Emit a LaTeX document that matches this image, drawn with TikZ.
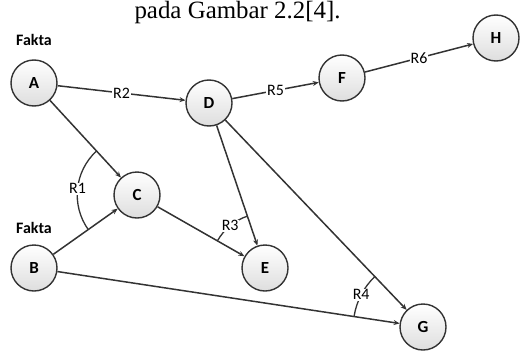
\documentclass[tikz,border=0pt]{standalone}
\usepackage{fontspec}
\setmainfont{Carlito}
\newfontfamily\titlefont{Liberation Serif}
\newcommand\rulefont{\fontsize{16}{16}\selectfont}
\usetikzlibrary{arrows.meta,angles,quotes}
\begin{document}
\begin{tikzpicture}[x=1bp,y=1bp,
    simpul/.style={circle,draw=black!80,line width=1.4bp,minimum size=46bp,inner sep=0pt,
        top color=white,bottom color=black!13,font=\fontsize{17}{17}\selectfont\bfseries},
    panah/.style={draw=black!80,line width=1.5bp,-{Stealth[length=6bp,width=5bp]}},
    aturan/.style={fill=white,inner sep=1pt,font=\rulefont},
    sudut/.style={draw=black!80,line width=1.3bp,angle eccentricity=1}]
    \useasboundingbox (0,0) rectangle (520,351);
    \node[anchor=base west,font=\titlefont\fontsize{25}{25}\selectfont] (judul) at (131,333) {pada Gambar 2.2[4].};
    % simpul
    \node[simpul] (A) at (34,268) {A};
    \node[simpul] (B) at (34,83) {B};
    \node[simpul] (C) at (137,156) {C};
    \node[simpul] (D) at (209,248) {D};
    \node[simpul] (E) at (265,83) {E};
    \node[simpul] (F) at (342,273) {F};
    \node[simpul] (G) at (423,24) {G};
    \node[simpul] (H) at (496,313) {H};
    \node[font=\fontsize{16}{16}\selectfont\bfseries] (fA) at (34,311) {Fakta};
    \node[font=\fontsize{16}{16}\selectfont\bfseries] (fB) at (34,123) {Fakta};
    % aturan
    \draw[panah] (A) -- node[aturan] {R2} (D);
    \draw[panah] (D) -- node[aturan] {R5} (F);
    \draw[panah] (F) -- node[aturan] {R6} (H);
    \draw[panah] (A) -- (C);
    \draw[panah] (B) -- (C);
    \draw[panah] (C) -- (E);
    \draw[panah] (D) -- (E);
    \draw[panah] (D) -- (G);
    \draw[panah] (B) -- (G);
    \pic[sudut,angle radius=60,"R1"aturan] {angle = A--C--B};
    \pic[sudut,angle radius=55,"R3"aturan] {angle = D--E--C};
    \pic[sudut,angle radius=70,"R4"aturan] {angle = D--G--B};
\end{tikzpicture}
\end{document}
